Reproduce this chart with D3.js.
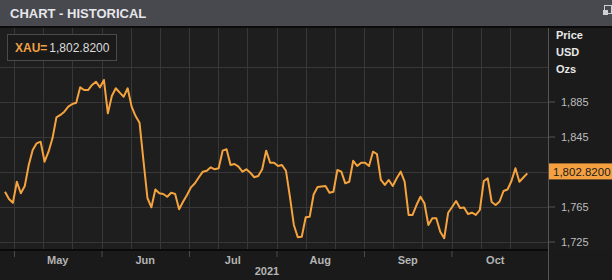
<!DOCTYPE html>
<html><head><meta charset="utf-8">
<script src="https://cdn.jsdelivr.net/npm/d3@7"></script>
<style>
html,body{margin:0;padding:0;background:#1b1b1b;}
svg{display:block;font-family:"Liberation Sans",Arial,sans-serif;}
</style></head>
<body>
<svg id="chart" width="612" height="280"></svg>
<script>
// ---- data ----
const title = "CHART - HISTORICAL";
const ric = "XAU=";
const lastPrice = 1802.82;
const prices = [
 1781.9,1773.6,1769.3,1793.3,1780.1,1788.4,1812.4,1829.6,1837.2,1839.1,
 1816.2,1827.6,1842.9,1866.9,1869.6,1873.3,1879.1,1882.1,1883.6,1901.2,
 1898.1,1898.1,1903.9,1907.6,1901.2,1909.6,1871.5,1891.3,1900.1,1895.1,
 1890.5,1900.1,1879.1,1868.4,1860.8,1817.0,1774.7,1764.1,1784.4,1780.1,
 1779.3,1776.2,1780.8,1779.3,1761.8,1770.5,1778.1,1786.9,1791.5,1798.4,
 1804.8,1805.9,1809.8,1807.5,1808.7,1828.8,1830.4,1812.4,1813.6,1810.5,
 1804.8,1807.5,1803.6,1798.4,1799.9,1807.5,1828.8,1815.1,1815.1,1811.3,
 1812.4,1805.9,1776.2,1743.9,1729.8,1730.5,1752.7,1753.3,1778.7,1787.3,
 1787.9,1788.4,1780.8,1781.9,1806.7,1804.8,1791.5,1793.3,1817.3,1811.3,
 1815.1,1815.1,1811.3,1827.6,1825.0,1795.3,1789.6,1795.3,1788.4,1797.2,
 1804.8,1793.3,1755.3,1755.3,1766.7,1776.2,1768.7,1743.9,1751.5,1751.5,
 1736.2,1728.7,1757.9,1764.4,1771.3,1763.3,1763.9,1756.4,1757.9,1755.3,
 1761.0,1794.1,1797.2,1770.1,1766.7,1770.7,1782.7,1784.4,1794.1,1808.7,
 1793.3,1798.1,1802.82
];
const months = ["May","Jun","Jul","Aug","Sep","Oct"];
const yearLabel = "2021";
const yGrid = [1725,1765,1805,1845,1885,1925];
const yLabeled = [1725,1765,1845,1885];
const unitLabels = ["Price","USD","Ozs"];

// ---- layout ----
const W = 612, H = 280;
const plotL = 0, plotR = 548, plotT = 28, plotB = 250;
const svg = d3.select("#chart");

// backgrounds
svg.append("rect").attr("x",0).attr("y",0).attr("width",W).attr("height",H).attr("fill","#1b1b1b");
svg.append("rect").attr("x",plotL).attr("y",plotT).attr("width",plotR-plotL).attr("height",plotB-plotT).attr("fill","#1e1e1e");
svg.append("rect").attr("x",0).attr("y",0).attr("width",W).attr("height",26).attr("fill","#48484f");
svg.append("rect").attr("x",0).attr("y",26).attr("width",W).attr("height",2).attr("fill","#0c0c0c");
svg.append("text").attr("x",10).attr("y",17.5).attr("fill","#e6e6ea")
  .attr("font-size",13).attr("font-weight","bold").text(title);
// small icon top-right
svg.append("rect").attr("x",604.5).attr("y",5.5).attr("width",7).attr("height",8).attr("fill","none").attr("stroke","#cfcfd4").attr("stroke-width",1);
svg.append("rect").attr("x",603).attr("y",10).attr("width",5).attr("height",5).attr("fill","#cfcfd4");

// scales
const x = d3.scaleLinear().domain([0, prices.length-1]).range([5, 527.3]);
const xm = d3.scaleLinear().domain([0, months.length]).range([14, 539]);
const y = d3.scaleLinear().domain([1725, 1885]).range([241.5, 101.5]);

const grid = svg.append("g");
// vertical grid (thirds of months)
d3.range(0, months.length*3).forEach(i => {
  const gx = Math.round(xm(i/3)) + 0.5;
  grid.append("line").attr("x1",gx).attr("x2",gx).attr("y1",plotT).attr("y2",plotB)
    .attr("stroke","#383838").attr("stroke-width",1);
});
// horizontal grid
yGrid.forEach(v => {
  const gy = Math.round(y(v)) + 0.5;
  grid.append("line").attr("x1",plotL).attr("x2",plotR).attr("y1",gy).attr("y2",gy)
    .attr("stroke","#383838").attr("stroke-width",1);
});

// price line
const line = d3.line().x((d,i)=>x(i)).y(d=>y(d));
svg.append("path").datum(prices).attr("d",line).attr("fill","none")
  .attr("stroke","#f5a33e").attr("stroke-width",2).attr("stroke-linejoin","round");

// bottom axis area
svg.append("rect").attr("x",0).attr("y",plotB).attr("width",W).attr("height",H-plotB).attr("fill","#1a1a1a");
svg.append("rect").attr("x",0).attr("y",plotB-1).attr("width",plotR).attr("height",2).attr("fill","#0a0a0a");
const xAxis = d3.axisBottom(xm).tickValues(d3.range(0, months.length)).tickSize(6).tickFormat("");
const gx = svg.append("g").attr("transform",`translate(0,${plotB+1})`).call(xAxis);
gx.select(".domain").remove();
gx.selectAll(".tick line").attr("stroke","#4a4a4a");
svg.append("g").selectAll("text").data(months).join("text")
  .attr("x",(d,i)=>xm(i+0.5)).attr("y",264).attr("text-anchor","middle")
  .attr("fill","#b4b4b4").attr("font-size",11).attr("font-weight","bold").text(d=>d);
svg.append("text").attr("x",267).attr("y",275).attr("text-anchor","middle")
  .attr("fill","#b4b4b4").attr("font-size",11).attr("font-weight","bold").text(yearLabel);

// right axis
svg.append("line").attr("x1",plotR+0.5).attr("x2",plotR+0.5).attr("y1",plotT).attr("y2",H)
  .attr("stroke","#555").attr("stroke-width",1);
const yAxis = d3.axisRight(y).tickValues(yLabeled).tickSize(6).tickPadding(6)
  .tickFormat(d3.format(",.0f"));
const gy = svg.append("g").attr("transform",`translate(${plotR+1},0)`).call(yAxis);
gy.select(".domain").remove();
gy.selectAll(".tick line").attr("stroke","#555");
gy.selectAll(".tick text").attr("fill","#bdbdbd").attr("font-size",11)
  .attr("font-family","'Liberation Sans',Arial,sans-serif");
svg.append("g").selectAll("text").data(unitLabels).join("text")
  .attr("x",556).attr("y",(d,i)=>39+i*17).attr("fill","#e8e8e8")
  .attr("font-size",11).attr("font-weight","bold").text(d=>d);

// last price marker
const ly = y(lastPrice);
svg.append("rect").attr("x",plotR+1).attr("y",ly-10).attr("width",W-plotR-1).attr("height",16).attr("fill","#f5a142");
svg.append("text").attr("x",553).attr("y",ly+2.5).attr("fill","#1b1b1b")
  .attr("font-size",11.5).text(d3.format(",.4f")(lastPrice));

// legend
svg.append("rect").attr("x",7.5).attr("y",34.5).attr("width",109).attr("height",26)
  .attr("fill","#1a1a1a").attr("stroke","#4a4a4a");
const lt = svg.append("text").attr("x",15).attr("y",52).attr("font-size",12);
lt.append("tspan").attr("fill","#f0a045").attr("font-weight","bold").text(ric);
lt.append("tspan").attr("fill","#dcdcdc").attr("dx",2).text(d3.format(",.4f")(lastPrice));
</script>
</body></html>
